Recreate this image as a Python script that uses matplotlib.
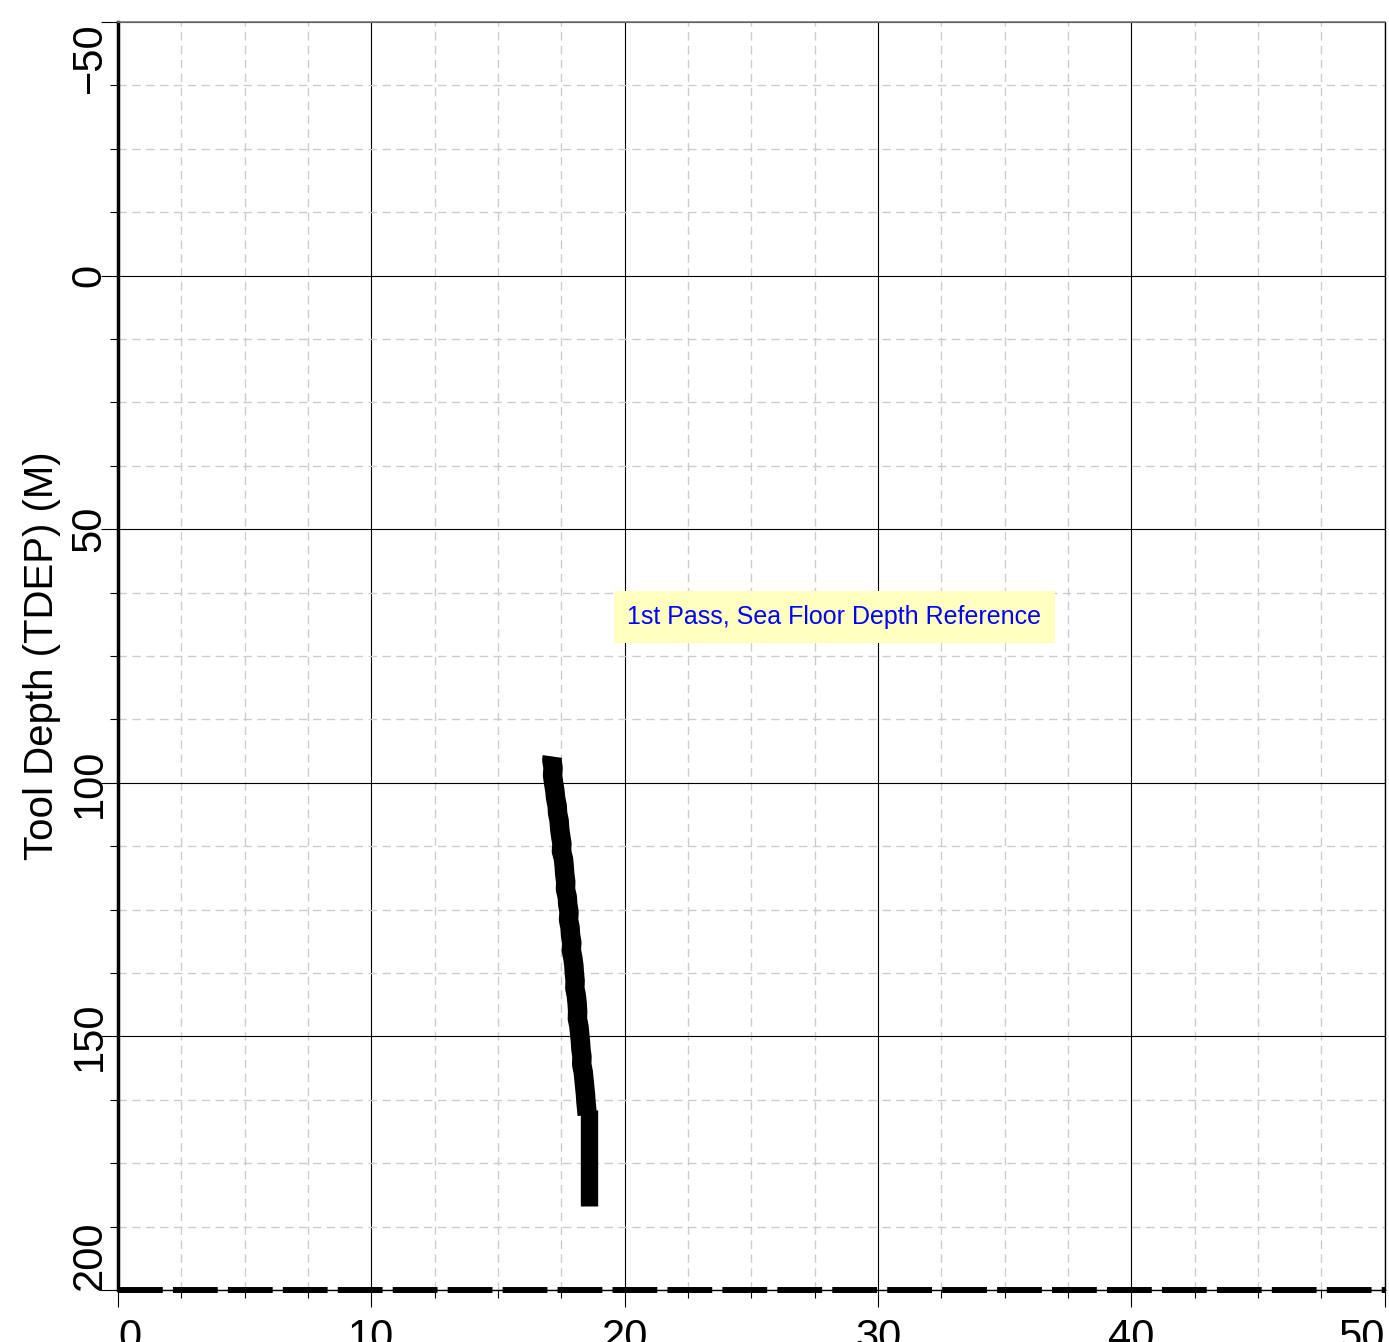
import matplotlib
matplotlib.use("Agg")
import matplotlib.pyplot as plt
from matplotlib.ticker import MultipleLocator

plt.rcParams['font.family'] = ['Liberation Sans', 'DejaVu Sans']

depth = [94.8, 95.5, 97.0, 98.5, 100.0, 101.5, 103.0, 104.5, 106.0, 107.5, 109.0,
         110.5, 112.0, 113.5, 115.0, 116.5, 118.0, 119.5, 121.0, 122.5, 124.0,
         125.5, 127.0, 128.5, 130.0, 131.5, 133.0, 134.5, 136.0, 137.5, 139.0,
         140.5, 142.0, 143.5, 145.0, 146.5, 148.0, 149.5, 151.0, 152.5, 154.0,
         155.5, 157.0, 158.5, 160.0, 161.5, 163.0, 165.5]
value = [17.14, 17.12, 17.17, 17.15, 17.19, 17.24, 17.27, 17.33, 17.35, 17.41, 17.43,
         17.47, 17.52, 17.50, 17.58, 17.61, 17.63, 17.67, 17.66, 17.73, 17.75,
         17.80, 17.78, 17.84, 17.86, 17.91, 17.89, 17.95, 17.99, 18.01, 18.04,
         18.03, 18.09, 18.12, 18.14, 18.13, 18.19, 18.22, 18.25, 18.27, 18.31,
         18.30, 18.36, 18.39, 18.42, 18.45, 18.47, 18.52]
tail_depth = [164.5, 183.5]
tail_value = [18.60, 18.60]

x_major = [0, 10, 20, 30, 40, 50]
y_major = [-50, 0, 50, 100, 150, 200]
note = "1st Pass, Sea Floor Depth Reference"
sea_floor = 200

fig = plt.figure(figsize=(13.89, 13.42), dpi=100)
ax = fig.add_axes([0.085, 0.0387, 0.912, 0.9449])

ax.set_xlim(0, 50)
ax.set_ylim(200, -50)

ax.xaxis.set_major_locator(MultipleLocator(10))
ax.xaxis.set_minor_locator(MultipleLocator(2.5))
ax.yaxis.set_major_locator(MultipleLocator(50))
ax.yaxis.set_minor_locator(MultipleLocator(12.5))

ax.grid(which='minor', color='#cccccc', linestyle=(0, (6, 4)), linewidth=1.0)
ax.grid(which='major', color='black', linestyle='-', linewidth=0.8)
ax.set_axisbelow(True)

ax.plot(value, depth, color='black', linewidth=14, solid_capstyle='butt',
        solid_joinstyle='round', zorder=3)
ax.plot(tail_value, tail_depth, color='black', linewidth=12.5,
        solid_capstyle='butt', zorder=3)

ax.axhline(sea_floor, color='black', linewidth=4.3, linestyle=(0, (7.5, 1.7)),
           zorder=4, clip_on=False)

ax.text(20.1, 67.3, note, color='#0000ff', fontsize=18, ha='left', va='center',
        bbox=dict(boxstyle='square,pad=0.55', facecolor='#ffffc0', edgecolor='none'),
        zorder=5)

ax.set_xticks(x_major)
ax.set_yticks(y_major)
ax.set_xticklabels([str(v) for v in x_major])
ax.set_yticklabels([str(v).replace('-', '\u2212') for v in y_major])

ax.tick_params(which='major', direction='out', length=12, width=0.8, labelsize=30)
ax.tick_params(which='minor', direction='out', length=6, width=0.8)
ax.tick_params(axis='y', which='major', pad=-6)
ax.tick_params(axis='x', which='major', pad=8)
for lab in ax.get_yticklabels():
    lab.set_rotation(90)
    lab.set_va('center')
ylabs = ax.get_yticklabels()
ylabs[0].set_va('top')
ylabs[-1].set_va('bottom')
xlabs = ax.get_xticklabels()
xlabs[0].set_ha('left')
xlabs[-1].set_ha('right')

ax.spines['left'].set_linewidth(2.5)
ax.spines['top'].set_color('#777777')
ax.spines['top'].set_linewidth(1.2)
ax.spines['right'].set_linewidth(1.0)
ax.spines['bottom'].set_linewidth(1.0)

ax.set_ylabel("Tool Depth (TDEP) (M)", fontsize=29)
ax.yaxis.set_label_coords(-0.045, 0.5)

fig.savefig("out.png", dpi=100)
